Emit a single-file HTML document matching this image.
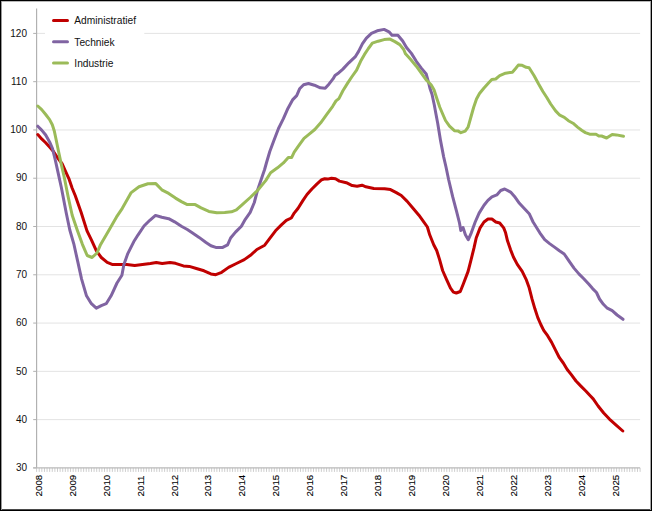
<!DOCTYPE html><html><head><meta charset="utf-8"><title>chart</title>
<style>html,body{margin:0;padding:0;background:#fff;}body{width:652px;height:511px;overflow:hidden;}svg{display:block;font-family:"Liberation Sans",sans-serif;}</style></head><body>
<svg width="652" height="511" viewBox="0 0 652 511">
<rect x="0" y="0" width="652" height="511" fill="#fff"/>
<line x1="36.6" y1="419.62" x2="640.1" y2="419.62" stroke="#e3e3e3" stroke-width="1"/>
<line x1="36.6" y1="371.34" x2="640.1" y2="371.34" stroke="#e3e3e3" stroke-width="1"/>
<line x1="36.6" y1="323.07" x2="640.1" y2="323.07" stroke="#e3e3e3" stroke-width="1"/>
<line x1="36.6" y1="274.79" x2="640.1" y2="274.79" stroke="#e3e3e3" stroke-width="1"/>
<line x1="36.6" y1="226.51" x2="640.1" y2="226.51" stroke="#e3e3e3" stroke-width="1"/>
<line x1="36.6" y1="178.23" x2="640.1" y2="178.23" stroke="#e3e3e3" stroke-width="1"/>
<line x1="36.6" y1="129.96" x2="640.1" y2="129.96" stroke="#e3e3e3" stroke-width="1"/>
<line x1="36.6" y1="81.68" x2="640.1" y2="81.68" stroke="#e3e3e3" stroke-width="1"/>
<line x1="36.6" y1="33.40" x2="640.1" y2="33.40" stroke="#e3e3e3" stroke-width="1"/>
<rect x="45" y="10" width="99.3" height="64" fill="#fff"/>
<line x1="33.2" y1="467.90" x2="36.6" y2="467.90" stroke="#b0b0b0" stroke-width="1"/>
<line x1="33.2" y1="419.62" x2="36.6" y2="419.62" stroke="#b0b0b0" stroke-width="1"/>
<line x1="33.2" y1="371.34" x2="36.6" y2="371.34" stroke="#b0b0b0" stroke-width="1"/>
<line x1="33.2" y1="323.07" x2="36.6" y2="323.07" stroke="#b0b0b0" stroke-width="1"/>
<line x1="33.2" y1="274.79" x2="36.6" y2="274.79" stroke="#b0b0b0" stroke-width="1"/>
<line x1="33.2" y1="226.51" x2="36.6" y2="226.51" stroke="#b0b0b0" stroke-width="1"/>
<line x1="33.2" y1="178.23" x2="36.6" y2="178.23" stroke="#b0b0b0" stroke-width="1"/>
<line x1="33.2" y1="129.96" x2="36.6" y2="129.96" stroke="#b0b0b0" stroke-width="1"/>
<line x1="33.2" y1="81.68" x2="36.6" y2="81.68" stroke="#b0b0b0" stroke-width="1"/>
<line x1="33.2" y1="33.40" x2="36.6" y2="33.40" stroke="#b0b0b0" stroke-width="1"/>
<path d="M36.60 467.9V471.9M39.21 467.9V471.9M41.83 467.9V471.9M44.44 467.9V471.9M47.05 467.9V471.9M49.66 467.9V471.9M52.28 467.9V471.9M54.89 467.9V471.9M57.50 467.9V471.9M60.11 467.9V471.9M62.73 467.9V471.9M65.34 467.9V471.9M67.95 467.9V471.9M70.56 467.9V471.9M73.18 467.9V471.9M75.79 467.9V471.9M78.40 467.9V471.9M81.01 467.9V471.9M83.63 467.9V471.9M86.24 467.9V471.9M88.85 467.9V471.9M91.46 467.9V471.9M94.08 467.9V471.9M96.69 467.9V471.9M99.30 467.9V471.9M101.91 467.9V471.9M104.53 467.9V471.9M107.14 467.9V471.9M109.75 467.9V471.9M112.36 467.9V471.9M114.98 467.9V471.9M117.59 467.9V471.9M120.20 467.9V471.9M122.81 467.9V471.9M125.43 467.9V471.9M128.04 467.9V471.9M130.65 467.9V471.9M133.26 467.9V471.9M135.88 467.9V471.9M138.49 467.9V471.9M141.10 467.9V471.9M143.71 467.9V471.9M146.33 467.9V471.9M148.94 467.9V471.9M151.55 467.9V471.9M154.16 467.9V471.9M156.78 467.9V471.9M159.39 467.9V471.9M162.00 467.9V471.9M164.62 467.9V471.9M167.23 467.9V471.9M169.84 467.9V471.9M172.45 467.9V471.9M175.07 467.9V471.9M177.68 467.9V471.9M180.29 467.9V471.9M182.90 467.9V471.9M185.52 467.9V471.9M188.13 467.9V471.9M190.74 467.9V471.9M193.35 467.9V471.9M195.97 467.9V471.9M198.58 467.9V471.9M201.19 467.9V471.9M203.80 467.9V471.9M206.42 467.9V471.9M209.03 467.9V471.9M211.64 467.9V471.9M214.25 467.9V471.9M216.87 467.9V471.9M219.48 467.9V471.9M222.09 467.9V471.9M224.70 467.9V471.9M227.32 467.9V471.9M229.93 467.9V471.9M232.54 467.9V471.9M235.15 467.9V471.9M237.77 467.9V471.9M240.38 467.9V471.9M242.99 467.9V471.9M245.60 467.9V471.9M248.22 467.9V471.9M250.83 467.9V471.9M253.44 467.9V471.9M256.05 467.9V471.9M258.67 467.9V471.9M261.28 467.9V471.9M263.89 467.9V471.9M266.50 467.9V471.9M269.12 467.9V471.9M271.73 467.9V471.9M274.34 467.9V471.9M276.95 467.9V471.9M279.57 467.9V471.9M282.18 467.9V471.9M284.79 467.9V471.9M287.41 467.9V471.9M290.02 467.9V471.9M292.63 467.9V471.9M295.24 467.9V471.9M297.86 467.9V471.9M300.47 467.9V471.9M303.08 467.9V471.9M305.69 467.9V471.9M308.31 467.9V471.9M310.92 467.9V471.9M313.53 467.9V471.9M316.14 467.9V471.9M318.76 467.9V471.9M321.37 467.9V471.9M323.98 467.9V471.9M326.59 467.9V471.9M329.21 467.9V471.9M331.82 467.9V471.9M334.43 467.9V471.9M337.04 467.9V471.9M339.66 467.9V471.9M342.27 467.9V471.9M344.88 467.9V471.9M347.49 467.9V471.9M350.11 467.9V471.9M352.72 467.9V471.9M355.33 467.9V471.9M357.94 467.9V471.9M360.56 467.9V471.9M363.17 467.9V471.9M365.78 467.9V471.9M368.39 467.9V471.9M371.01 467.9V471.9M373.62 467.9V471.9M376.23 467.9V471.9M378.84 467.9V471.9M381.46 467.9V471.9M384.07 467.9V471.9M386.68 467.9V471.9M389.29 467.9V471.9M391.91 467.9V471.9M394.52 467.9V471.9M397.13 467.9V471.9M399.75 467.9V471.9M402.36 467.9V471.9M404.97 467.9V471.9M407.58 467.9V471.9M410.20 467.9V471.9M412.81 467.9V471.9M415.42 467.9V471.9M418.03 467.9V471.9M420.65 467.9V471.9M423.26 467.9V471.9M425.87 467.9V471.9M428.48 467.9V471.9M431.10 467.9V471.9M433.71 467.9V471.9M436.32 467.9V471.9M438.93 467.9V471.9M441.55 467.9V471.9M444.16 467.9V471.9M446.77 467.9V471.9M449.38 467.9V471.9M452.00 467.9V471.9M454.61 467.9V471.9M457.22 467.9V471.9M459.83 467.9V471.9M462.45 467.9V471.9M465.06 467.9V471.9M467.67 467.9V471.9M470.28 467.9V471.9M472.90 467.9V471.9M475.51 467.9V471.9M478.12 467.9V471.9M480.73 467.9V471.9M483.35 467.9V471.9M485.96 467.9V471.9M488.57 467.9V471.9M491.18 467.9V471.9M493.80 467.9V471.9M496.41 467.9V471.9M499.02 467.9V471.9M501.63 467.9V471.9M504.25 467.9V471.9M506.86 467.9V471.9M509.47 467.9V471.9M512.08 467.9V471.9M514.70 467.9V471.9M517.31 467.9V471.9M519.92 467.9V471.9M522.54 467.9V471.9M525.15 467.9V471.9M527.76 467.9V471.9M530.37 467.9V471.9M532.99 467.9V471.9M535.60 467.9V471.9M538.21 467.9V471.9M540.82 467.9V471.9M543.44 467.9V471.9M546.05 467.9V471.9M548.66 467.9V471.9M551.27 467.9V471.9M553.89 467.9V471.9M556.50 467.9V471.9M559.11 467.9V471.9M561.72 467.9V471.9M564.34 467.9V471.9M566.95 467.9V471.9M569.56 467.9V471.9M572.17 467.9V471.9M574.79 467.9V471.9M577.40 467.9V471.9M580.01 467.9V471.9M582.62 467.9V471.9M585.24 467.9V471.9M587.85 467.9V471.9M590.46 467.9V471.9M593.07 467.9V471.9M595.69 467.9V471.9M598.30 467.9V471.9M600.91 467.9V471.9M603.52 467.9V471.9M606.14 467.9V471.9M608.75 467.9V471.9M611.36 467.9V471.9M613.97 467.9V471.9M616.59 467.9V471.9M619.20 467.9V471.9M621.81 467.9V471.9M624.42 467.9V471.9M627.04 467.9V471.9M629.65 467.9V471.9M632.26 467.9V471.9M634.87 467.9V471.9M637.49 467.9V471.9M640.10 467.9V471.9" stroke="#c2c2c2" stroke-width="0.8" fill="none"/>
<line x1="36.6" y1="8.6" x2="36.6" y2="467.9" stroke="#b0b0b0" stroke-width="1.15"/>
<line x1="33.2" y1="467.9" x2="640.1" y2="467.9" stroke="#bababa" stroke-width="1.1"/>
<polyline points="37.8,134.6 41.7,138.9 45.7,142.8 49.6,147.1 53.5,151.6 57.4,157.5 62.3,164.0 65.3,170.8 69.2,179.4 72.1,188.0 75.2,195.5 81.1,212.2 87.0,230.9 91.4,239.8 96.3,250.6 101.3,257.5 107.2,262.4 112.1,264.4 118.9,264.4 126.8,264.4 134.7,265.4 142.5,264.4 150.4,263.4 156.3,262.4 162.2,263.4 170.0,262.4 175.5,263.3 183.4,265.9 189.3,266.4 197.2,268.8 204.0,270.8 210.9,273.9 215.8,274.7 221.7,272.3 228.6,267.4 236.4,263.5 244.3,259.6 251.2,254.7 256.9,249.5 264.7,245.2 269.6,238.7 275.5,230.8 281.4,224.9 286.3,220.4 291.3,218.0 294.2,213.1 298.1,208.2 303.0,200.4 307.0,194.5 311.9,189.0 316.8,184.1 321.7,179.7 324.7,178.8 327.6,179.1 331.5,178.2 335.5,178.8 339.4,181.1 346.3,182.7 352.2,185.6 357.1,186.2 362.0,185.2 365.9,186.8 373.8,188.5 384.6,188.7 390.5,189.6 396.3,192.6 401.3,195.5 407.2,201.4 413.0,208.3 418.9,215.2 423.9,222.1 427.4,227.0 429.7,234.8 433.7,244.7 436.7,250.5 439.6,259.6 442.6,270.5 446.5,279.3 450.5,288.1 453.4,292.1 456.3,293.0 460.3,291.5 463.2,284.2 468.1,271.4 471.1,259.6 474.0,247.9 476.2,238.0 480.1,227.9 484.0,222.0 488.0,219.0 491.9,219.0 495.8,222.0 499.7,223.0 503.7,227.9 505.6,232.8 507.5,240.8 510.5,249.6 513.4,257.0 517.3,264.4 522.2,271.4 526.1,279.3 529.0,287.2 532.0,298.9 534.9,308.8 537.8,317.6 540.8,324.5 543.7,330.3 547.6,335.7 551.5,342.1 555.4,349.9 559.4,357.7 563.3,363.0 567.2,369.5 571.1,374.4 576.0,381.0 580.9,386.1 585.8,391.0 590.7,396.3 593.2,398.9 598.1,406.0 603.7,413.0 609.4,419.1 616.4,425.3 622.8,431.0" fill="none" stroke="#c00000" stroke-width="3" stroke-linejoin="round" stroke-linecap="round"/>
<polyline points="37.8,126.2 41.7,130.1 45.7,135.0 49.6,141.9 52.5,148.7 55.4,160.5 58.4,174.1 61.4,187.7 66.3,213.2 69.8,230.0 73.8,243.8 77.7,261.4 81.6,279.1 86.5,295.8 91.4,303.7 96.3,308.2 101.3,305.6 106.2,303.7 111.1,295.8 117.0,283.0 121.9,275.2 123.9,264.4 127.8,253.6 133.7,241.8 138.1,234.8 144.0,226.0 149.8,220.3 155.5,215.4 161.8,217.3 168.7,218.7 174.6,221.8 181.4,226.2 187.3,229.5 192.2,232.7 199.1,237.4 206.0,242.5 210.9,245.8 215.8,247.4 222.7,247.4 227.6,244.8 230.6,238.0 235.5,232.1 241.4,226.2 245.3,219.3 250.2,212.4 254.3,202.5 257.3,191.0 260.0,183.0 262.2,176.5 264.6,169.5 266.4,163.0 269.8,151.5 273.6,141.3 278.5,128.5 283.4,118.7 287.9,108.4 292.8,99.6 296.7,95.6 299.6,88.8 303.6,84.8 308.5,83.5 314.4,85.2 320.3,87.8 325.2,88.2 329.1,83.9 333.0,78.9 335.0,75.4 338.9,72.7 342.9,69.1 348.8,62.8 355.6,56.3 358.6,51.4 362.5,43.6 366.4,38.1 371.4,33.4 377.2,30.8 384.1,29.4 389.0,31.8 392.0,35.3 397.9,35.3 402.7,41.0 406.5,47.5 411.4,53.4 416.3,61.3 421.3,68.1 426.2,74.0 428.4,82.0 430.1,88.8 432.0,94.2 434.3,105.0 436.0,114.3 437.7,123.2 440.6,140.9 443.6,156.6 446.0,167.0 448.6,179.5 452.6,196.4 456.5,211.2 459.5,223.0 460.8,230.4 463.0,227.5 465.4,234.7 468.3,239.7 471.3,232.8 475.2,222.0 479.1,213.1 484.0,205.3 487.9,200.4 491.9,196.8 496.8,194.9 500.7,190.5 504.7,189.0 510.6,192.1 514.5,196.4 519.4,203.3 524.3,208.6 529.2,213.7 533.1,222.0 535.9,226.5 539.8,232.8 544.7,239.7 549.6,243.6 554.5,247.1 559.4,250.8 564.2,254.0 569.1,261.2 574.0,268.1 578.9,273.9 583.8,278.8 588.7,284.1 592.6,288.6 596.5,292.5 599.5,299.0 603.4,304.3 607.3,308.2 612.2,310.7 617.1,315.0 623.0,319.3" fill="none" stroke="#8064a2" stroke-width="3" stroke-linejoin="round" stroke-linecap="round"/>
<polyline points="37.8,106.0 41.7,109.6 45.7,114.5 49.6,119.6 52.3,124.8 54.3,131.0 56.3,140.5 58.4,150.7 61.3,164.4 64.2,177.0 66.2,187.0 68.3,197.5 72.2,215.2 77.4,230.5 82.4,244.3 87.2,255.5 92.1,257.5 97.0,253.0 100.5,244.7 108.8,230.5 116.4,217.2 122.3,208.3 131.2,192.6 139.0,186.7 147.9,183.8 155.8,183.6 161.8,189.8 168.7,193.4 175.5,198.1 181.4,201.6 187.3,204.6 195.2,204.6 201.1,207.9 208.9,211.4 216.8,212.8 224.7,212.4 231.5,211.8 236.4,209.9 242.3,204.6 250.2,197.5 257.5,190.5 265.7,180.6 270.6,172.7 277.5,167.8 283.4,162.9 288.3,157.4 291.7,157.4 294.2,152.1 299.1,145.2 304.0,138.3 308.9,134.4 314.8,129.5 320.7,122.8 326.6,114.7 332.7,106.3 336.0,100.9 338.9,98.6 342.9,90.7 347.8,82.9 351.7,77.0 356.6,70.1 360.6,61.3 364.5,54.4 368.4,48.5 372.3,43.2 378.2,41.2 384.1,39.6 390.0,39.1 394.9,41.6 399.8,44.6 403.7,49.5 405.5,53.8 410.5,59.3 416.3,66.2 421.3,73.0 426.2,79.9 431.1,84.8 434.0,89.7 436.5,97.5 439.7,107.0 442.9,114.5 445.5,120.5 449.5,126.2 454.4,130.7 458.3,131.1 460.9,132.7 465.2,131.1 468.1,127.2 470.8,117.5 473.6,107.5 476.5,99.0 479.5,93.5 484.0,88.0 488.5,83.0 491.8,79.5 495.7,79.0 499.7,75.7 505.5,73.2 512.4,72.2 515.4,68.7 518.3,65.1 522.2,65.3 526.2,67.3 529.1,67.7 534.0,75.5 538.6,84.0 542.9,91.5 546.8,97.5 550.7,104.0 555.6,110.9 559.8,115.2 564.3,117.3 568.4,120.7 573.0,123.2 577.5,127.1 582.0,130.5 585.4,132.6 589.6,134.2 596.0,134.3 598.8,136.0 601.6,136.0 606.6,138.0 612.2,134.4 616.4,134.9 623.5,136.3" fill="none" stroke="#9bbb59" stroke-width="3" stroke-linejoin="round" stroke-linecap="round"/>
<text x="27.0" y="471.1" font-size="10" text-anchor="end" fill="#111">30</text>
<text x="27.0" y="422.8" font-size="10" text-anchor="end" fill="#111">40</text>
<text x="27.0" y="374.5" font-size="10" text-anchor="end" fill="#111">50</text>
<text x="27.0" y="326.3" font-size="10" text-anchor="end" fill="#111">60</text>
<text x="27.0" y="278.0" font-size="10" text-anchor="end" fill="#111">70</text>
<text x="27.0" y="229.7" font-size="10" text-anchor="end" fill="#111">80</text>
<text x="27.0" y="181.4" font-size="10" text-anchor="end" fill="#111">90</text>
<text x="27.0" y="133.2" font-size="10" text-anchor="end" fill="#111">100</text>
<text x="27.0" y="84.9" font-size="10" text-anchor="end" fill="#111">110</text>
<text x="27.0" y="36.6" font-size="10" text-anchor="end" fill="#111">120</text>
<text transform="translate(41.6,496.4) rotate(-90) scale(0.975,1)" font-size="9.95" fill="#000" stroke="#000" stroke-width="0.1">2008</text>
<text transform="translate(75.6,496.4) rotate(-90) scale(0.975,1)" font-size="9.95" fill="#000" stroke="#000" stroke-width="0.1">2009</text>
<text transform="translate(109.5,496.4) rotate(-90) scale(0.975,1)" font-size="9.95" fill="#000" stroke="#000" stroke-width="0.1">2010</text>
<text transform="translate(143.5,496.4) rotate(-90) scale(0.975,1)" font-size="9.95" fill="#000" stroke="#000" stroke-width="0.1">2011</text>
<text transform="translate(177.5,496.4) rotate(-90) scale(0.975,1)" font-size="9.95" fill="#000" stroke="#000" stroke-width="0.1">2012</text>
<text transform="translate(211.4,496.4) rotate(-90) scale(0.975,1)" font-size="9.95" fill="#000" stroke="#000" stroke-width="0.1">2013</text>
<text transform="translate(245.4,496.4) rotate(-90) scale(0.975,1)" font-size="9.95" fill="#000" stroke="#000" stroke-width="0.1">2014</text>
<text transform="translate(279.3,496.4) rotate(-90) scale(0.975,1)" font-size="9.95" fill="#000" stroke="#000" stroke-width="0.1">2015</text>
<text transform="translate(313.3,496.4) rotate(-90) scale(0.975,1)" font-size="9.95" fill="#000" stroke="#000" stroke-width="0.1">2016</text>
<text transform="translate(347.3,496.4) rotate(-90) scale(0.975,1)" font-size="9.95" fill="#000" stroke="#000" stroke-width="0.1">2017</text>
<text transform="translate(381.2,496.4) rotate(-90) scale(0.975,1)" font-size="9.95" fill="#000" stroke="#000" stroke-width="0.1">2018</text>
<text transform="translate(415.2,496.4) rotate(-90) scale(0.975,1)" font-size="9.95" fill="#000" stroke="#000" stroke-width="0.1">2019</text>
<text transform="translate(449.2,496.4) rotate(-90) scale(0.975,1)" font-size="9.95" fill="#000" stroke="#000" stroke-width="0.1">2020</text>
<text transform="translate(483.1,496.4) rotate(-90) scale(0.975,1)" font-size="9.95" fill="#000" stroke="#000" stroke-width="0.1">2021</text>
<text transform="translate(517.1,496.4) rotate(-90) scale(0.975,1)" font-size="9.95" fill="#000" stroke="#000" stroke-width="0.1">2022</text>
<text transform="translate(551.1,496.4) rotate(-90) scale(0.975,1)" font-size="9.95" fill="#000" stroke="#000" stroke-width="0.1">2023</text>
<text transform="translate(585.0,496.4) rotate(-90) scale(0.975,1)" font-size="9.95" fill="#000" stroke="#000" stroke-width="0.1">2024</text>
<text transform="translate(619.0,496.4) rotate(-90) scale(0.975,1)" font-size="9.95" fill="#000" stroke="#000" stroke-width="0.1">2025</text>
<line x1="53.5" y1="20.5" x2="67.5" y2="20.5" stroke="#c00000" stroke-width="3" stroke-linecap="round"/>
<text x="74.3" y="24.4" font-size="10.2" fill="#111">Administratief</text>
<line x1="53.5" y1="41.8" x2="67.5" y2="41.8" stroke="#8064a2" stroke-width="3" stroke-linecap="round"/>
<text x="74.3" y="45.699999999999996" font-size="10.2" fill="#111">Techniek</text>
<line x1="53.5" y1="63.1" x2="67.5" y2="63.1" stroke="#9bbb59" stroke-width="3" stroke-linecap="round"/>
<text x="74.3" y="67.0" font-size="10.2" fill="#111">Industrie</text>
<rect x="0" y="0" width="652" height="1" fill="#000"/><rect x="0" y="1" width="652" height="1" fill="#b8b8b8"/>
<rect x="0" y="510" width="652" height="1" fill="#000"/><rect x="0" y="509" width="652" height="1" fill="#4a4a4a"/>
<rect x="0" y="0" width="1" height="511" fill="#000"/><rect x="1" y="1" width="1" height="509" fill="#999"/>
<rect x="651" y="0" width="1" height="511" fill="#000"/><rect x="650" y="1" width="1" height="509" fill="#a5a5a5"/>
</svg></body></html>
